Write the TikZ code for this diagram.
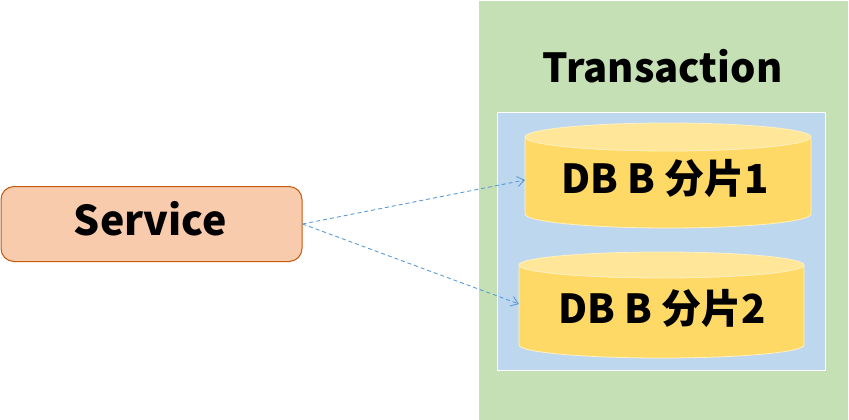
\documentclass[tikz,border=0pt]{standalone}
\usepackage{fontspec}
\setmainfont{Noto Sans CJK SC}
\usetikzlibrary{arrows.meta}
\definecolor{grn}{HTML}{C5E0B4}
\definecolor{blu}{HTML}{BDD7EE}
\definecolor{ylw}{HTML}{FFD966}
\definecolor{ylwtop}{HTML}{FFE699}
\definecolor{svcfill}{HTML}{F8CBAD}
\definecolor{svcdraw}{HTML}{C55A11}
\definecolor{arr}{HTML}{5B9BD5}
\tikzset{
  lbl/.style={anchor=base, inner sep=0pt, font=\bfseries},
  dbbody/.style={fill=ylw, draw=white!60!ylw, line width=0.8pt},
  dbtop/.style={fill=ylwtop, draw=white!60!ylw, line width=0.8pt},
  link/.style={draw=arr, line width=0.9pt, dash pattern=on 4pt off 3pt, -{Straight Barb[length=7pt,width=10pt]}}
}
\begin{document}
\begin{tikzpicture}[x=1pt,y=-1pt]
\useasboundingbox (0,0) rectangle (849,420);
% containers
\fill[grn] (479,1) rectangle (848,420);
\draw[fill=blu, draw=white, line width=1pt] (497,112) rectangle (825,370);
\node[lbl, font=\bfseries\fontsize{40}{44}\selectfont] (trans) at (662.5,82) {Transaction};
% cylinder 1
\path[dbbody] (525,137) -- (525,214) arc[start angle=180, end angle=0, x radius=143, y radius=14] -- (811,137) -- cycle;
\path[dbtop] (668,137) ellipse[x radius=143, y radius=14];
\coordinate (db1w) at (525,180);
\node[lbl, font=\bfseries\fontsize{40}{46}\selectfont] (db1) at (665,193) {DB B 分片1};
% cylinder 2
\path[dbbody] (519,265) -- (519,345) arc[start angle=180, end angle=0, x radius=142.5, y radius=13] -- (804,265) -- cycle;
\path[dbtop] (661.5,265) ellipse[x radius=142.5, y radius=13];
\coordinate (db2w) at (519,304);
\node[lbl, font=\bfseries\fontsize{40}{46}\selectfont] (db2) at (662,323) {DB B 分片2};
% service
\node[draw=svcdraw, fill=svcfill, line width=1pt, rounded corners=13pt, minimum width=301pt, minimum height=75pt, inner sep=0pt] (svc) at (151.5,224) {};
\node[lbl, font=\bfseries\fontsize{41}{46}\selectfont] (svct) at (150.5,235) {Service};
% links
\draw[link] (svc.east) -- (db1w);
\draw[link] (svc.east) -- (db2w);
\end{tikzpicture}
\end{document}
